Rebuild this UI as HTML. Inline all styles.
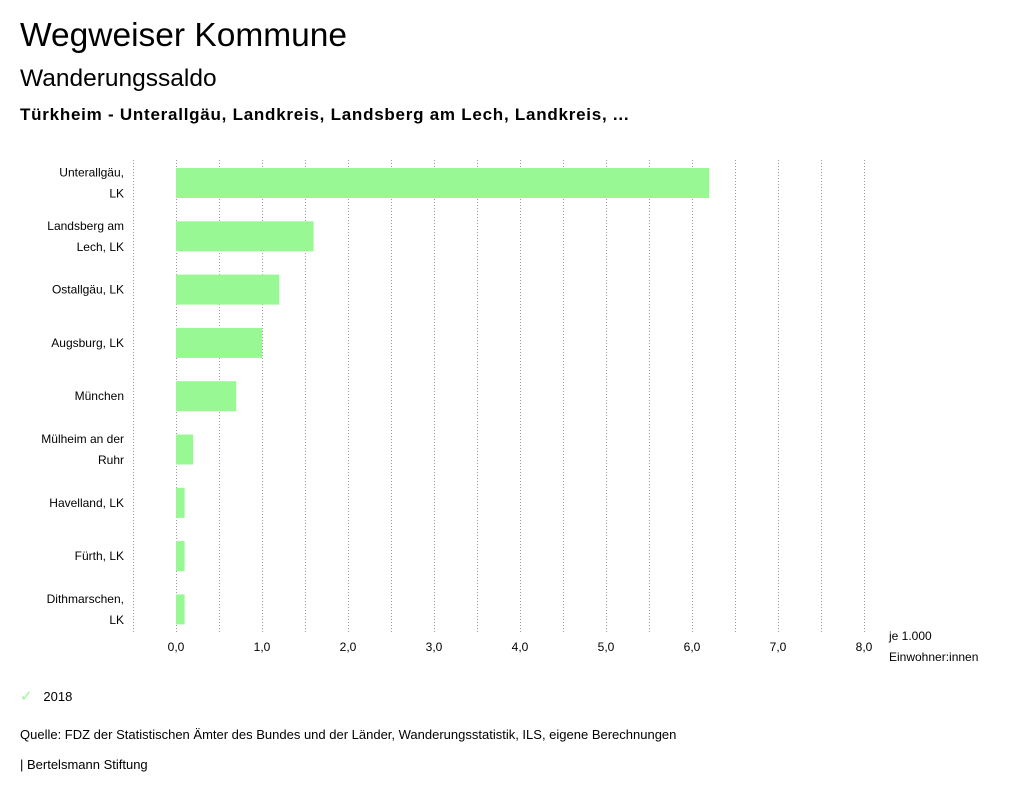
<!DOCTYPE html>
<html><head><meta charset="utf-8">
<style>
body{margin:0;width:1024px;height:798px;background:#fff;font-family:"Liberation Sans","DejaVu Sans",sans-serif;color:#000;position:relative;overflow:hidden}
.t{position:absolute;white-space:nowrap}
svg text{font-family:"Liberation Sans","DejaVu Sans",sans-serif}
</style></head><body>
<div class="t" style="left:20px;top:17px;font-size:33.5px">Wegweiser Kommune</div>
<div class="t" style="left:20px;top:65px;font-size:24.5px">Wanderungssaldo</div>
<div class="t" style="left:20px;top:105px;font-size:17px;font-weight:bold;letter-spacing:0.75px">Türkheim - Unterallgäu, Landkreis, Landsberg am Lech, Landkreis, ...</div>
<svg id="chart" width="1024" height="798" style="position:absolute;left:0;top:0"></svg>
<div class="t" style="left:20px;top:687px;font-size:13px"><span style="color:#98f893;font-size:15px">✓</span>&nbsp;&nbsp; 2018</div>
<div class="t" style="left:20px;top:727px;font-size:13px">Quelle: FDZ der Statistischen Ämter des Bundes und der Länder, Wanderungsstatistik, ILS, eigene Berechnungen</div>
<div class="t" style="left:20px;top:757px;font-size:13px">| Bertelsmann Stiftung</div>
<script>
const categories=[["Unterallgäu,","LK"],["Landsberg am","Lech, LK"],["Ostallgäu, LK"],["Augsburg, LK"],["München"],["Mülheim an der","Ruhr"],["Havelland, LK"],["Fürth, LK"],["Dithmarschen,","LK"]];
const values2018=[6.2,1.6,1.2,1.0,0.7,0.2,0.1,0.1,0.1];
const tickValues=[0,1,2,3,4,5,6,7,8];
const tickLabels=["0,0","1,0","2,0","3,0","4,0","5,0","6,0","7,0","8,0"];
const gridValues=[-0.5,0,0.5,1,1.5,2,2.5,3,3.5,4,4.5,5,5.5,6,6.5,7,7.5,8];
const svg=document.getElementById('chart');
const NS='http://www.w3.org/2000/svg';
const x=v=>176+v*86;
const top0=156,band=53.3;
const y=i=>top0+i*band;
function mk(t,a){const e=document.createElementNS(NS,t);for(const k in a)e.setAttribute(k,a[k]);svg.appendChild(e);return e;}
gridValues.forEach(v=>{
 const l=mk('line',{x1:x(v)+0.5,x2:x(v)+0.5,y1:160,y2:632,stroke:'#999','stroke-dasharray':'1,2','stroke-width':1});
 
 
});
tickValues.forEach((v,i)=>{
 const t=mk('text',{x:x(v),y:651,'font-size':12,'text-anchor':'middle'});
 t.textContent=tickLabels[i];
 
 
});
values2018.forEach((v,i)=>{
 const r=mk('rect',{x:x(0),y:y(i)+12,width:x(v)-x(0),height:30,fill:'#98f893'});
 
 
 const lines=categories[i];
 const cy=y(i)+27;
 lines.forEach((s,j)=>{
  const t=mk('text',{x:124,y:cy+4+(j-(lines.length-1)/2)*21,'font-size':12,'text-anchor':'end'});
  t.textContent=s;
  
  
 });
});
const u1=mk('text',{x:889,y:640,'font-size':12});u1.textContent='je 1.000';


const u2=mk('text',{x:889,y:661,'font-size':12});u2.textContent='Einwohner:innen';


</script>
</body></html>
